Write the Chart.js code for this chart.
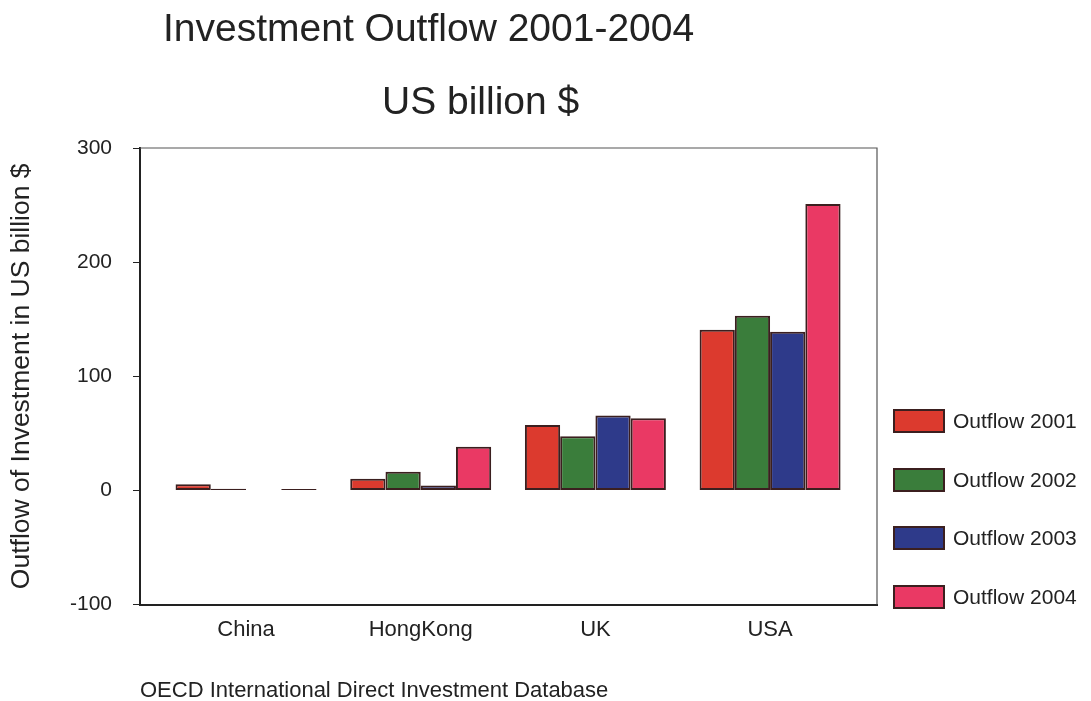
<!DOCTYPE html>
<html lang="en">
<head>
  <meta charset="UTF-8" />
  <title>Investment Outflow 2001-2004</title>
  <script src="https://cdn.jsdelivr.net/npm/chart.js"></script>
  <style>
    body {
      margin: 0;
      background: #ffffff;
      font-family: "Liberation Sans", Arial, sans-serif;
      color: #222;
    }
    #wrap {
      position: relative;
      width: 1091px;
      height: 701px;
      overflow: hidden;
    }
    canvas { position: absolute; left: 0; top: 0; }
    .txt { position: absolute; white-space: nowrap; line-height: 1; }
    #title1 { left: 163px; top: 8px; font-size: 39px; }
    #title2 { left: 382px; top: 81px; font-size: 39px; }
    #source { left: 140px; top: 679px; font-size: 22px; }
    .leg { position: absolute; left: 893px; height: 24px; }
    .leg .box {
      position: absolute; left: 0; top: 0;
      width: 48px; height: 20px;
      border: 2px solid #3b1f1f;
    }
    .leg .lab {
      position: absolute; left: 60px; top: 0px;
      font-size: 21px; line-height: 1.1; white-space: nowrap;
    }
  </style>
</head>
<body>
  <div id="wrap">
    <canvas id="chart" width="1091" height="701"></canvas>
    <div class="txt" id="title1">Investment Outflow 2001-2004</div>
    <div class="txt" id="title2">US billion $</div>
    <div class="txt" id="source">OECD International Direct Investment Database</div>
  </div>

  <script>
    // data
    const countries = ["China", "HongKong", "UK", "USA"];
    const years = ["Outflow 2001", "Outflow 2002", "Outflow 2003", "Outflow 2004"];
    const outflow2001 = [5.5, 10.3, 57.3, 140.7];
    const outflow2002 = [1.5, 16.4, 47.5, 153];
    const outflow2003 = [0.3, 4.3, 65.7, 139];
    const outflow2004 = [1.2, 38.2, 63.2, 251];
    const yTicks = [-100, 0, 100, 200, 300];

    const colors = ["#dc3a2e", "#3a7d3b", "#2e3a8a", "#ea3964"];
    const series = [outflow2001, outflow2002, outflow2003, outflow2004];

    // top and right frame lines
    const frame = {
      id: "frame",
      afterDraw(chart) {
        const a = chart.chartArea, ctx = chart.ctx;
        ctx.save();
        ctx.strokeStyle = "#555";
        ctx.lineWidth = 1.2;
        ctx.beginPath();
        ctx.moveTo(a.left, a.top);
        ctx.lineTo(a.right, a.top);
        ctx.lineTo(a.right, a.bottom);
        ctx.stroke();
        ctx.restore();
      }
    };

    new Chart(document.getElementById("chart"), {
      type: "bar",
      data: {
        labels: countries,
        datasets: series.map((s, i) => ({
          label: years[i],
          data: s,
          backgroundColor: colors[i],
          borderColor: "#3b1f1f",
          borderWidth: 2,
          borderSkipped: false,
          categoryPercentage: 0.807,
          barPercentage: 1.0
        }))
      },
      options: {
        responsive: false,
        animation: false,
        layout: { padding: { left: 6, right: 214, top: 148, bottom: 46 } },
        plugins: {
          legend: { display: false },
          tooltip: { enabled: false }
        },
        scales: {
          x: {
            // the original plot leaves a wider margin at both ends
            afterBuildTicks(scale) {
              scale._startValue = -0.607;
              scale._valueRange = 4.219;
            },
            grid: { display: false, drawTicks: false },
            border: { display: true, color: "#222", width: 2 },
            ticks: {
              padding: 12,
              color: "#222",
              font: { family: "Liberation Sans", size: 22 }
            }
          },
          y: {
            min: -100,
            max: 300,
            afterFit(scale) { scale.width = 134; },
            afterBuildTicks(scale) { scale.ticks = yTicks.map(v => ({ value: v })); },
            grid: { drawOnChartArea: false, drawTicks: true, tickLength: 7, color: "#222" },
            border: { display: true, color: "#222", width: 2 },
            ticks: {
              padding: 21,
              color: "#222",
              font: { family: "Liberation Sans", size: 21 }
            },
            title: {
              display: true,
              text: "Outflow of Investment in US billion $",
              color: "#222",
              padding: 0,
              font: { family: "Liberation Sans", size: 26.5 }
            }
          }
        }
      },
      plugins: [frame]
    });

    // legend on the right
    const wrap = document.getElementById("wrap");
    years.forEach((name, i) => {
      const item = document.createElement("div");
      item.className = "leg";
      item.style.top = (409 + i * 58.7) + "px";
      const box = document.createElement("div");
      box.className = "box";
      box.style.background = colors[i];
      const lab = document.createElement("div");
      lab.className = "lab";
      lab.textContent = name;
      item.appendChild(box);
      item.appendChild(lab);
      wrap.appendChild(item);
    });
  </script>
</body>
</html>
